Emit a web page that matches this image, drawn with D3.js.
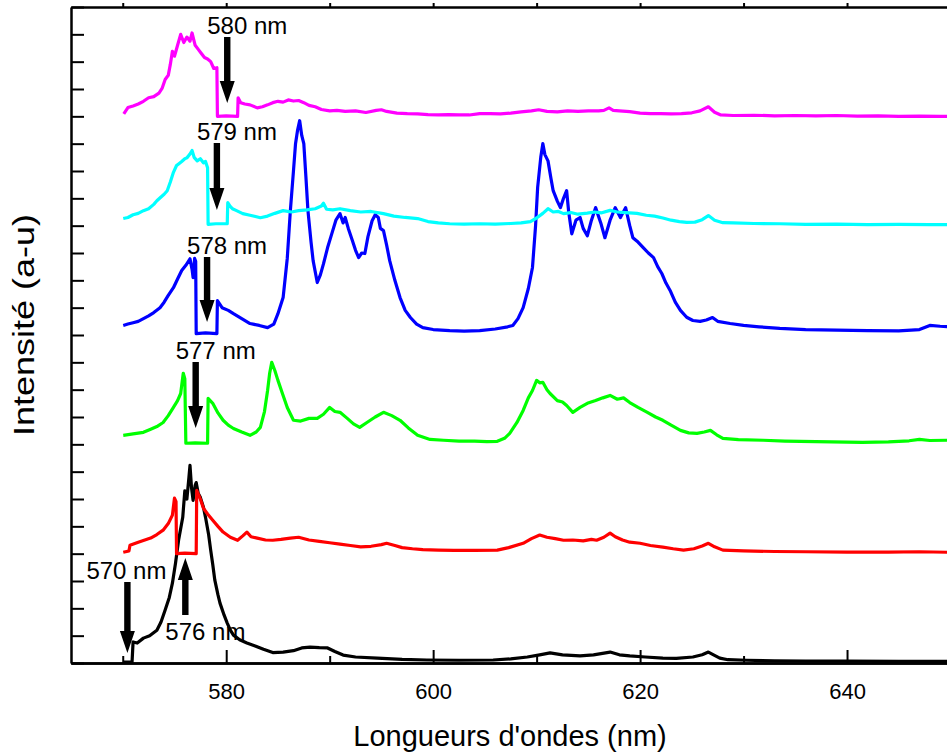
<!DOCTYPE html>
<html><head><meta charset="utf-8">
<script src="https://cdn.jsdelivr.net/npm/d3@7"></script>
<style>
html,body{margin:0;padding:0;background:#fff;}
svg{display:block;font-family:"Liberation Sans",Arial,sans-serif;}
</style></head>
<body>
<svg id="chart" width="947" height="756"></svg>
<script>
// ---------- DATA (wavelength nm, intensity a.u. relative to each trace's baseline) ----------
const seriesNames = ["570 nm", "576 nm", "577 nm", "578 nm", "579 nm", "580 nm"];
const seriesColors = ["#000000", "#ff0000", "#00ff00", "#0000ff", "#00ffff", "#ff00ff"];
const seriesOffsets = [0, 4, 8, 12, 16, 20];

const black = [[570.05,0.03],[570.9,0.03],[571.0,0.77],[571.4,0.73],[572,0.91],[572.6,1.0],[573.3,1.2],[573.7,1.5],[574.1,1.94],[574.5,2.4],[574.8,2.92],[575.1,3.65],[575.4,4.5],[575.8,5.33],[576,6.3],[576.2,6.0],[576.4,6.8],[576.5,7.23],[576.65,6.4],[576.8,5.95],[577.0,6.5],[577.1,6.6],[577.3,6.2],[577.5,6.06],[577.8,5.7],[578,5.33],[578.3,4.7],[578.5,4.13],[578.7,3.6],[578.9,3.03],[579.2,2.5],[579.4,2.19],[579.8,1.75],[580.1,1.46],[580.4,1.2],[580.7,1.02],[581.3,0.85],[582,0.73],[582.8,0.62],[583.6,0.5],[584.5,0.38],[585.5,0.4],[586.5,0.45],[587.3,0.55],[588.1,0.58],[589,0.56],[589.8,0.55],[590.5,0.42],[591.3,0.29],[592.5,0.22],[594.6,0.18],[597,0.13],[599.4,0.11],[602.5,0.1],[605.8,0.11],[607.5,0.15],[609.1,0.22],[610.3,0.3],[611.3,0.37],[612.5,0.3],[614.2,0.26],[615.5,0.3],[617.1,0.4],[618,0.3],[619,0.26],[620.5,0.22],[622.2,0.18],[623.5,0.17],[625.1,0.22],[626,0.3],[626.6,0.4],[627.1,0.3],[627.7,0.18],[628.5,0.12],[630.3,0.1],[633,0.08],[636,0.07],[640,0.07],[645,0.06],[650,0.06]];

const red = [[570.05,0.05],[570.6,0.1],[570.7,0.31],[571.5,0.42],[572.7,0.57],[573.3,0.7],[573.9,0.86],[574.4,1.1],[574.8,1.41],[575.0,2.03],[575.15,1.9],[575.2,0.0],[576,0.02],[577.1,0.0],[577.15,2.32],[577.5,2.0],[577.8,1.66],[578.2,1.45],[578.7,1.22],[579.2,1.0],[579.7,0.79],[580.4,0.6],[581.1,0.49],[581.6,0.65],[582,0.79],[582.4,0.62],[583,0.57],[583.8,0.5],[584.5,0.49],[585.3,0.52],[586.2,0.57],[587,0.6],[588,0.5],[589,0.45],[590,0.4],[591,0.35],[592,0.3],[593,0.25],[594,0.27],[595,0.33],[595.5,0.38],[596.3,0.3],[597,0.22],[598,0.18],[599,0.15],[600.5,0.13],[602,0.12],[604,0.12],[606.2,0.13],[607.3,0.22],[608.7,0.38],[609.5,0.55],[610.3,0.68],[611,0.6],[611.8,0.55],[612.6,0.49],[613.5,0.5],[614.5,0.47],[615.3,0.52],[615.8,0.49],[616.5,0.6],[617.1,0.75],[617.6,0.62],[618.3,0.5],[619,0.42],[620,0.38],[621,0.3],[622.2,0.24],[623.2,0.18],[624.2,0.13],[625.2,0.18],[626,0.28],[626.6,0.38],[627.2,0.25],[628,0.13],[630,0.1],[633,0.08],[636,0.07],[640,0.06],[644,0.06],[647,0.07],[650,0.05]];

const green = [[570.05,0.33],[571,0.38],[572,0.44],[572.7,0.55],[573.3,0.65],[573.9,0.8],[574.4,1.05],[574.9,1.35],[575.3,1.6],[575.6,1.86],[575.85,2.6],[576.0,2.4],[576.1,0.04],[577,0.05],[578.2,0.04],[578.25,1.68],[578.7,1.5],[579.2,1.15],[579.7,0.88],[580.2,0.7],[580.7,0.58],[581.5,0.45],[582.3,0.33],[582.9,0.45],[583.3,0.62],[583.7,1.2],[584,1.97],[584.2,2.6],[584.4,3.0],[584.7,2.7],[585,2.34],[585.4,1.9],[585.9,1.35],[586.5,0.88],[587.2,0.85],[588,0.95],[588.8,0.95],[589.4,1.1],[590,1.35],[590.5,1.2],[591,1.17],[591.7,0.95],[592.3,0.75],[592.9,0.62],[593.6,0.8],[594.4,1.0],[595.2,1.17],[596,1.05],[596.8,0.88],[597.6,0.6],[598.5,0.33],[599.7,0.18],[601,0.15],[602.5,0.12],[604,0.12],[605.2,0.1],[606.2,0.11],[606.9,0.22],[607.4,0.4],[608.1,0.8],[608.7,1.24],[609.2,1.7],[609.6,1.97],[610,2.34],[610.3,2.25],[610.6,2.27],[611,2.0],[611.3,1.86],[612,1.6],[612.5,1.55],[612.9,1.42],[613.5,1.17],[614.2,1.35],[614.9,1.5],[615.7,1.6],[616.4,1.7],[617.1,1.79],[617.8,1.65],[618.4,1.7],[619,1.53],[619.8,1.35],[620.7,1.17],[621.5,1.0],[622.2,0.88],[623,0.7],[623.9,0.51],[624.7,0.42],[625.5,0.4],[626.2,0.45],[626.8,0.51],[627.4,0.35],[628,0.22],[629.5,0.17],[631.9,0.15],[634,0.12],[637,0.1],[641.5,0.07],[644,0.09],[646,0.13],[647,0.18],[648,0.14],[649.7,0.15],[650,0.15]];

const blue = [[570.05,0.35],[570.5,0.4],[571,0.45],[571.5,0.5],[572,0.6],[572.5,0.7],[573,0.82],[573.6,1.0],[574,1.2],[574.4,1.45],[574.9,1.73],[575.3,2.05],[575.7,2.36],[576.1,2.55],[576.5,2.79],[576.7,2.4],[576.8,2.1],[576.95,2.8],[577.05,2.7],[577.1,0.05],[578,0.08],[579.1,0.05],[579.15,1.26],[579.6,1.0],[580.2,0.9],[580.7,0.78],[581.5,0.6],[582.3,0.42],[583.2,0.35],[584,0.27],[584.6,0.4],[585,0.78],[585.5,1.37],[585.9,2.8],[586.2,4.55],[586.5,6.0],[586.7,7.0],[586.9,7.5],[587.1,7.84],[587.3,7.3],[587.5,7.0],[587.7,5.8],[587.9,4.55],[588.2,3.4],[588.4,2.72],[588.8,1.92],[589.1,2.2],[589.4,2.6],[589.8,3.2],[590.2,3.7],[590.6,4.2],[591,4.44],[591.3,4.1],[591.5,4.3],[591.8,3.9],[592.2,3.45],[592.5,3.1],[592.8,2.83],[593.1,3.0],[593.4,2.98],[593.7,3.6],[594.1,4.18],[594.4,4.4],[594.7,4.3],[594.9,3.9],[595.2,3.82],[595.5,3.3],[595.8,2.72],[596.3,2.0],[596.8,1.37],[597.3,0.9],[597.8,0.64],[598.4,0.4],[599,0.27],[600,0.2],[601.6,0.16],[603,0.14],[604.5,0.16],[606,0.22],[607.2,0.3],[607.7,0.35],[608.2,0.6],[608.7,1.0],[609.2,1.7],[609.6,2.47],[609.9,4.0],[610.1,5.4],[610.4,6.5],[610.6,7.0],[610.8,6.6],[611.1,6.37],[611.4,5.7],[611.6,5.28],[612,4.9],[612.3,4.66],[612.6,5.0],[612.9,5.28],[613.1,4.5],[613.4,3.7],[613.8,4.2],[614.2,4.3],[614.5,3.9],[614.9,3.63],[615.3,4.2],[615.7,4.66],[616.2,4.1],[616.6,3.56],[617.1,4.2],[617.6,4.66],[618.1,4.3],[618.6,4.66],[619,4.0],[619.3,3.56],[619.8,3.4],[620.3,3.2],[620.8,3.0],[621.3,2.83],[621.7,2.5],[622.1,2.25],[622.5,1.9],[622.9,1.63],[623.4,1.2],[623.9,0.9],[624.5,0.65],[625.1,0.53],[625.8,0.5],[626.4,0.55],[627,0.64],[627.5,0.5],[628.7,0.42],[630,0.35],[631.5,0.3],[633.5,0.24],[636,0.2],[639,0.18],[642,0.16],[645,0.15],[647,0.2],[648,0.35],[649,0.32],[650,0.3]];

const cyan = [[570.05,0.26],[570.5,0.3],[571,0.4],[571.5,0.45],[572,0.55],[572.5,0.62],[573,0.78],[573.3,0.91],[573.7,1.05],[574,1.15],[574.3,1.28],[574.6,1.6],[574.9,1.95],[575.2,2.2],[575.4,2.26],[575.7,2.35],[576,2.45],[576.2,2.48],[576.5,2.62],[576.7,2.75],[576.9,2.5],[577.2,2.37],[577.5,2.45],[577.8,2.3],[578.0,2.35],[578.2,2.12],[578.25,0.05],[579,0.07],[580.1,0.07],[580.15,0.84],[580.4,0.7],[580.6,0.62],[581,0.55],[581.6,0.44],[582.3,0.38],[583.3,0.29],[584,0.35],[584.7,0.45],[585.5,0.55],[586.3,0.5],[587,0.55],[587.8,0.58],[588.6,0.62],[589.2,0.72],[589.4,0.82],[589.7,0.6],[590.3,0.58],[591,0.62],[592,0.55],[593,0.5],[594,0.52],[595.2,0.44],[596.2,0.35],[597.3,0.3],[598.5,0.26],[599.5,0.15],[600.5,0.1],[601.6,0.07],[603,0.06],[604.5,0.07],[606,0.06],[607.5,0.08],[608.5,0.1],[609.4,0.15],[610,0.28],[610.6,0.45],[611.1,0.62],[611.6,0.5],[612.1,0.52],[612.6,0.44],[613.3,0.48],[614,0.42],[614.9,0.46],[615.6,0.5],[616.3,0.47],[617.1,0.56],[617.8,0.5],[618.6,0.48],[619.7,0.45],[620.6,0.38],[621.4,0.35],[622.2,0.28],[623,0.2],[623.8,0.15],[624.5,0.12],[625.3,0.13],[626,0.22],[626.6,0.37],[627.2,0.2],[628,0.11],[629,0.1],[631,0.08],[633.5,0.07],[636,0.05],[639,0.06],[642,0.04],[645,0.05],[648,0.04],[650,0.04]];

const magenta = [[570.1,0.09],[570.5,0.32],[571,0.38],[571.5,0.45],[572,0.55],[572.5,0.68],[573,0.72],[573.5,0.85],[573.8,1.02],[574.1,1.35],[574.4,1.5],[574.6,1.9],[574.8,2.38],[575.0,2.2],[575.3,2.6],[575.6,3.0],[575.9,2.7],[576.2,2.9],[576.5,2.75],[576.7,3.05],[577.0,2.6],[577.3,2.45],[577.6,2.3],[577.9,2.15],[578.2,2.1],[578.5,2.0],[578.8,1.75],[579.1,1.78],[579.15,0.0],[580,0.02],[581.1,0.0],[581.15,0.68],[581.4,0.5],[581.8,0.45],[582.3,0.42],[583,0.31],[583.5,0.35],[584,0.42],[584.5,0.5],[585,0.55],[585.5,0.52],[586,0.6],[586.5,0.56],[587,0.58],[587.5,0.5],[588,0.4],[588.6,0.35],[589.2,0.25],[590,0.2],[590.7,0.22],[591.5,0.18],[592.5,0.2],[593.5,0.14],[594.5,0.22],[595,0.24],[595.5,0.18],[596.5,0.12],[597.5,0.1],[598.5,0.09],[599.5,0.06],[600.5,0.05],[601.5,0.06],[602.5,0.05],[603.5,0.05],[604.5,0.1],[605.5,0.1],[606.5,0.09],[607.5,0.12],[608.5,0.16],[609.5,0.2],[610.2,0.24],[611,0.18],[612,0.16],[613,0.2],[614,0.18],[615,0.2],[616,0.2],[616.5,0.22],[617,0.31],[617.4,0.22],[618,0.2],[619,0.17],[620,0.12],[621,0.1],[622,0.1],[623,0.09],[624,0.1],[625,0.13],[625.8,0.2],[626.6,0.35],[627.2,0.15],[627.8,0.05],[629,0.03],[631,0.04],[633,0.02],[635,0.03],[637,0.02],[639,0.03],[641,0.01],[643,0.02],[645,0.0],[647,0.01],[649,0.0],[650,0.0]];

const seriesData = [black, red, green, blue, cyan, magenta];

// annotations: label, arrow wavelength, arrow tail value, arrow tip value
const annLabels = ["580 nm", "579 nm", "578 nm", "577 nm", "576 nm", "570 nm"];
const annWl     = [580.1, 579.1, 578.15, 577.05, 576.05, 570.45];
const annTail   = [22.9, 19.02, 14.85, 11.01, 1.76, 2.96];
const annTip    = [20.49, 16.57, 12.48, 8.6, 3.84, 0.37];

const xMajor = [580, 600, 620, 640];
const xMinor = [570, 590, 610, 630, 650];
const yTicks = d3.range(0, 25, 1);

const xTitle = "Longueurs d'ondes (nm)";
const yTitle = "Intensité (a-u)";

// ---------- CHART ----------
const svg = d3.select("#chart");
const x = d3.scaleLinear().domain([565, 650]).range([71, 950.5]);
const y = d3.scaleLinear().domain([0, 24]).range([663, 7]);

svg.append("defs").append("clipPath").attr("id","plotclip")
  .append("rect").attr("x", 71).attr("y", 0).attr("width", 880).attr("height", 665);

const line = d3.line().x(d => x(d[0])).y(d => y(d[1]));
const gLines = svg.append("g").attr("clip-path","url(#plotclip)");
seriesData.forEach((s, i) => {
  gLines.append("path")
    .datum(s.map(d => [d[0], d[1] + seriesOffsets[i]]))
    .attr("d", line)
    .attr("fill", "none")
    .attr("stroke", seriesColors[i])
    .attr("stroke-width", 3.2)
    .attr("stroke-linejoin", "round");
});

// axes
const axStyle = g => {
  g.select(".domain").attr("stroke", "#000").attr("stroke-width", 2.5);
  g.selectAll(".tick line").attr("stroke", "#000").attr("stroke-width", 2);
};
svg.append("g").attr("transform","translate(0,663)")
  .call(d3.axisBottom(x).tickValues(xMinor).tickSize(-7).tickSizeOuter(0).tickFormat(""))
  .call(axStyle);
const xAx = svg.append("g").attr("transform","translate(0,663)")
  .call(d3.axisBottom(x).tickValues(xMajor).tickSize(-13).tickSizeOuter(0).tickPadding(20).tickFormat(d3.format("d")))
  .call(axStyle);
xAx.selectAll("text").attr("font-size", 22).attr("fill", "#000")
  .attr("font-family", '"Liberation Sans",Arial,sans-serif');

svg.append("g").attr("transform","translate(0,7)")
  .call(d3.axisTop(x).tickValues(xMajor.concat(xMinor)).tickSize(4).tickSizeOuter(0).tickFormat(""))
  .call(axStyle);

svg.append("g").attr("transform","translate(71,0)")
  .call(d3.axisLeft(y).tickValues(yTicks).tickSize(-13).tickSizeOuter(0).tickFormat(""))
  .call(axStyle);

// titles
svg.append("text").attr("x", 510).attr("y", 746).attr("text-anchor","middle")
  .attr("font-size", 29).attr("fill","#000").text(xTitle);
svg.append("text").attr("transform","translate(34,325) rotate(-90)")
  .attr("text-anchor","middle").attr("font-size", 30).attr("fill","#000")
  .attr("textLength", 222).attr("lengthAdjust","spacingAndGlyphs").text(yTitle);

// annotation arrows
const gAnn = svg.append("g");
annLabels.forEach((lab, i) => {
  const ax = x(annWl[i]);
  const yt = y(annTail[i]), yp = y(annTip[i]);
  const dir = yp > yt ? 1 : -1;
  const headLen = 22, headW = 7.5, shaftW = 3.2;
  const yb = yp - dir * headLen;
  const pts = [[ax - shaftW, yt], [ax + shaftW, yt], [ax + shaftW, yb], [ax + headW, yb],
               [ax, yp], [ax - headW, yb], [ax - shaftW, yb]];
  gAnn.append("path").attr("d", "M" + pts.map(p => p.join(",")).join("L") + "Z").attr("fill", "#000");
  let tx, ty;
  if (dir === 1) {
    tx = (i === 5) ? ax - 41 : ax - 20;
    ty = yt - 3;
  } else {
    tx = ax - 20;
    ty = yt + 25;
  }
  gAnn.append("text").attr("x", tx).attr("y", ty).attr("font-size", 24).attr("fill","#000").text(lab);
});
</script>
</body></html>
